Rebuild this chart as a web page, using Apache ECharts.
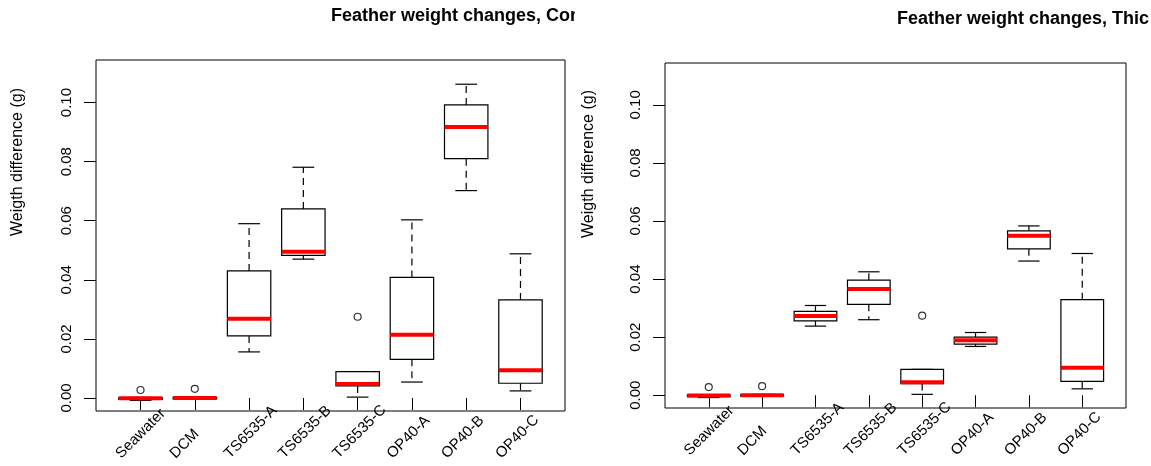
<!DOCTYPE html>
<html>
<head>
<meta charset="utf-8">
<script src="https://cdn.jsdelivr.net/npm/echarts@6/dist/echarts.min.js"></script>
<style>
html,body{margin:0;padding:0;background:#fff;overflow:hidden;}
.panel{position:absolute;top:0;width:575px;height:466px;overflow:hidden;}
</style>
</head>
<body>
<div id="c1" class="panel" style="left:0px"></div>
<div id="c2" class="panel" style="left:576px"></div>
<script>
// ---------- data ----------
const categories = ['Seawater', 'DCM', 'TS6535-A', 'TS6535-B', 'TS6535-C', 'OP40-A', 'OP40-B', 'OP40-C'];
const yTicks = [0, 0.02, 0.04, 0.06, 0.08, 0.10];
const yLabelText = 'Weigth difference (g)';

const leftTitle = 'Feather weight changes, Con';
const leftMin    = [-0.0008, -0.0003, 0.0156, 0.0470, 0.0003, 0.0054, 0.0702, 0.0024];
const leftQ1     = [-0.0005, -0.0003, 0.0210, 0.0483, 0.0041, 0.0131, 0.0810, 0.0050];
const leftMedian = [-0.0001,  0.0000, 0.0268, 0.0495, 0.0047, 0.0214, 0.0917, 0.0094];
const leftQ3     = [ 0.0001,  0.0002, 0.0430, 0.0640, 0.0089, 0.0408, 0.0992, 0.0332];
const leftMax    = [ 0.0002,  0.0003, 0.0590, 0.0781, 0.0089, 0.0603, 0.1062, 0.0488];
const leftOutlierCat = ['Seawater', 'DCM', 'TS6535-C'];
const leftOutlierVal = [0.0027, 0.0031, 0.0275];

const rightTitle = 'Feather weight changes, Thic';
const rightMin    = [-0.0008, -0.0003, 0.0238, 0.0260, 0.0003, 0.0168, 0.0462, 0.0022];
const rightQ1     = [-0.0005, -0.0003, 0.0256, 0.0313, 0.0040, 0.0176, 0.0504, 0.0048];
const rightMedian = [-0.0001,  0.0000, 0.0273, 0.0366, 0.0045, 0.0189, 0.0549, 0.0095];
const rightQ3     = [ 0.0001,  0.0002, 0.0289, 0.0396, 0.0089, 0.0200, 0.0566, 0.0329];
const rightMax    = [ 0.0002,  0.0003, 0.0309, 0.0425, 0.0089, 0.0216, 0.0583, 0.0488];
const rightOutlierCat = ['Seawater', 'DCM', 'TS6535-C'];
const rightOutlierVal = [0.0028, 0.0031, 0.0274];

// ---------- layout / style ----------
const FONT = 'Liberation Sans, Arial, sans-serif';
const Y_MIN = -0.0044, Y_MAX = 0.1144;
const X_MIN = 0.18, X_MAX = 8.82;
const LABEL_SHIFT = -0.41;

function buildOption(p) {
  const positions = categories.map((c, i) => i + 1);
  const boxData = categories.map((c, i) => [i + 1, p.min[i], p.q1[i], p.med[i], p.q3[i], p.max[i]]);
  const outData = p.outCat.map((c, i) => [categories.indexOf(c) + 1, p.outVal[i]]);
  return {
    animation: false,
    backgroundColor: '#ffffff',
    title: {
      text: p.title, left: p.titleLeft, top: p.titleTop, padding: 0,
      textStyle: { fontFamily: FONT, fontWeight: 'bold', fontSize: 18, color: '#000' }
    },
    grid: {
      left: p.grid.left, top: p.grid.top, width: p.grid.width, height: p.grid.height,
      show: true, borderColor: '#000', borderWidth: 1, backgroundColor: 'transparent'
    },
    xAxis: {
      type: 'value', min: X_MIN, max: X_MAX,
      axisLine: { show: false }, splitLine: { show: false },
      axisTick: { show: true, length: 12, customValues: positions, lineStyle: { color: '#000', width: 1 } },
      axisLabel: {
        customValues: positions.map(v => v + LABEL_SHIFT),
        formatter: v => categories[Math.round(v - LABEL_SHIFT) - 1],
        rotate: 45, align: 'left', verticalAlign: 'middle', margin: 45,
        fontFamily: FONT, fontSize: 15, color: '#000'
      }
    },
    yAxis: {
      type: 'value', min: Y_MIN, max: Y_MAX,
      axisLine: { show: false }, splitLine: { show: false },
      axisTick: { show: true, length: 12, customValues: yTicks, lineStyle: { color: '#000', width: 1 } },
      axisLabel: {
        customValues: yTicks,
        formatter: v => v.toFixed(2),
        rotate: 90, margin: 22,
        fontFamily: FONT, fontSize: 15, color: '#000'
      }
    },
    graphic: [{
      type: 'text', rotation: Math.PI / 2, x: p.yNameX, y: p.yNameY,
      style: { text: yLabelText, fontFamily: FONT, fontSize: 16, fill: '#000', align: 'center', verticalAlign: 'middle' }
    }],
    series: [
      {
        type: 'custom',
        data: boxData,
        encode: { x: 0, y: [1, 2, 3, 4, 5] },
        renderItem: function (params, api) {
          const x = api.value(0);
          const w = api.size([0.8, 0])[0];
          const cw = w / 2;
          const pMin = api.coord([x, api.value(1)]);
          const pQ1 = api.coord([x, api.value(2)]);
          const pMed = api.coord([x, api.value(3)]);
          const pQ3 = api.coord([x, api.value(4)]);
          const pMax = api.coord([x, api.value(5)]);
          const cx = pMed[0];
          const solid = { stroke: '#000', lineWidth: 1.2, fill: null };
          const dashed = { stroke: '#000', lineWidth: 1.2, lineDash: [7, 5], fill: null };
          return {
            type: 'group',
            children: [
              { type: 'line', shape: { x1: cx, y1: pQ3[1], x2: cx, y2: pMax[1] }, style: dashed },
              { type: 'line', shape: { x1: cx, y1: pQ1[1], x2: cx, y2: pMin[1] }, style: dashed },
              { type: 'line', shape: { x1: cx - cw / 2, y1: pMax[1], x2: cx + cw / 2, y2: pMax[1] }, style: solid },
              { type: 'line', shape: { x1: cx - cw / 2, y1: pMin[1], x2: cx + cw / 2, y2: pMin[1] }, style: solid },
              { type: 'rect', shape: { x: cx - w / 2, y: pQ3[1], width: w, height: Math.max(pQ1[1] - pQ3[1], 0.5) },
                style: { stroke: '#000', lineWidth: 1.2, fill: '#fff' } },
              { type: 'line', shape: { x1: cx - w / 2, y1: pMed[1], x2: cx + w / 2, y2: pMed[1] },
                style: { stroke: '#ff0000', lineWidth: 4 } }
            ]
          };
        }
      },
      {
        type: 'scatter',
        data: outData,
        symbol: 'circle', symbolSize: 7,
        itemStyle: { color: 'transparent', borderColor: '#000', borderWidth: 1.2 }
      }
    ]
  };
}

const c1 = echarts.init(document.getElementById('c1'), null, { renderer: 'canvas' });
c1.setOption(buildOption({
  title: leftTitle, titleLeft: 331, titleTop: 7,
  grid: { left: 96, top: 60, width: 469, height: 351 },
  yNameX: 18, yNameY: 162,
  min: leftMin, q1: leftQ1, med: leftMedian, q3: leftQ3, max: leftMax,
  outCat: leftOutlierCat, outVal: leftOutlierVal
}));

const c2 = echarts.init(document.getElementById('c2'), null, { renderer: 'canvas' });
c2.setOption(buildOption({
  title: rightTitle, titleLeft: 321, titleTop: 10,
  grid: { left: 89, top: 63, width: 461, height: 345 },
  yNameX: 13, yNameY: 164,
  min: rightMin, q1: rightQ1, med: rightMedian, q3: rightQ3, max: rightMax,
  outCat: rightOutlierCat, outVal: rightOutlierVal
}));
</script>
</body>
</html>
